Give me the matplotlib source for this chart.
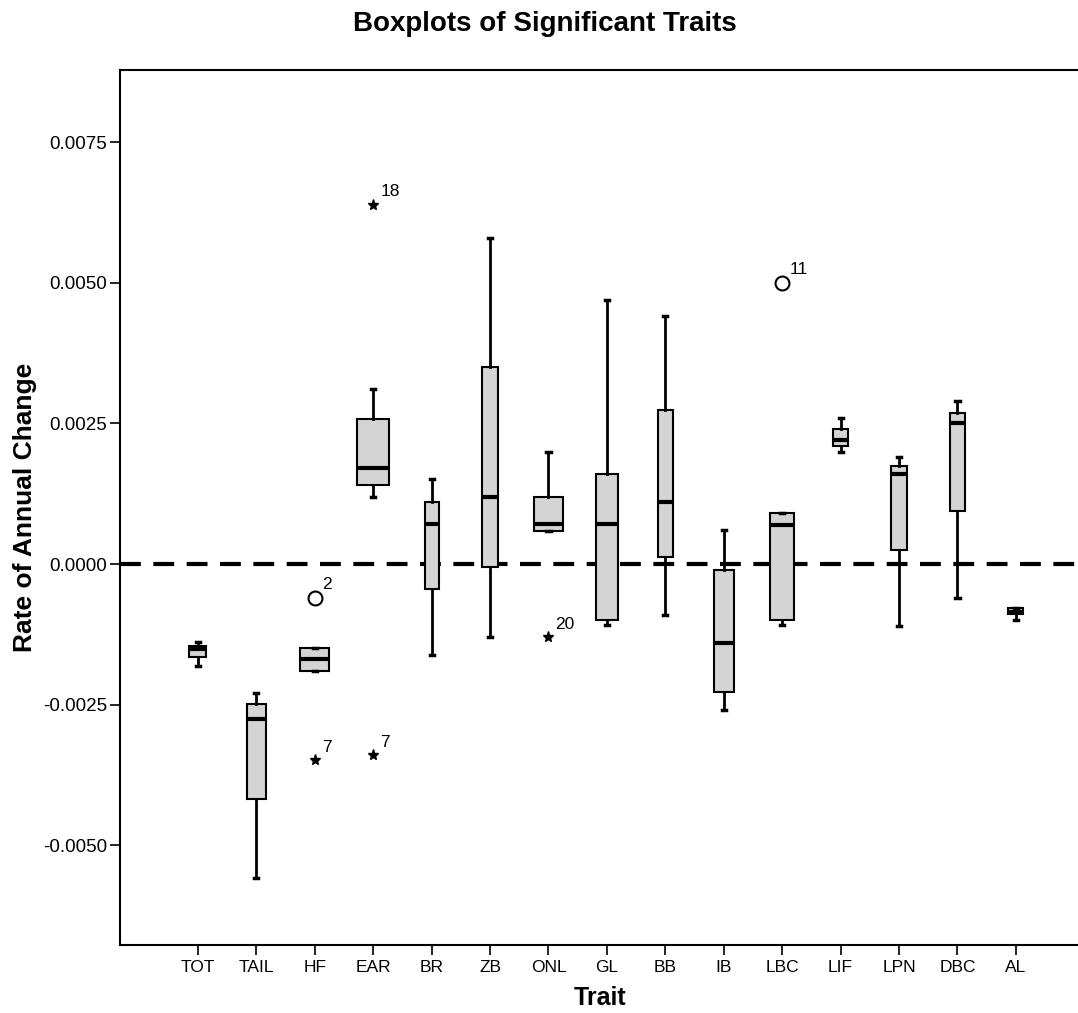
import matplotlib
matplotlib.use("Agg")
import matplotlib.pyplot as plt

plt.rcParams['font.family'] = ['Liberation Sans', 'DejaVu Sans']

# Trait boxplot summaries
traits = ["TOT", "TAIL", "HF", "EAR", "BR", "ZB", "ONL", "GL",
          "BB", "IB", "LBC", "LIF", "LPN", "DBC", "AL"]
whis_lo = [-0.00181, -0.00559, -0.00190, 0.00119, -0.00162, -0.00130, 0.00059, -0.00108,
           -0.00091, -0.00260, -0.00108, 0.00199, -0.00110, -0.00060, -0.00100]
q1 = [-0.00165, -0.00418, -0.00190, 0.00141, -0.00045, -0.00005, 0.00059, -0.00100,
      0.00012, -0.00228, -0.00100, 0.00210, 0.00025, 0.00094, -0.00089]
med = [-0.00152, -0.00276, -0.00169, 0.00171, 0.00071, 0.00119, 0.00071, 0.00071,
       0.00110, -0.00141, 0.00069, 0.00221, 0.00160, 0.00251, -0.00085]
q3 = [-0.00146, -0.00249, -0.00149, 0.00258, 0.00110, 0.00350, 0.00119, 0.00160,
      0.00274, -0.00011, 0.00091, 0.00240, 0.00174, 0.00269, -0.00078]
whis_hi = [-0.00139, -0.00229, -0.00149, 0.00311, 0.00151, 0.00580, 0.00199, 0.00470,
           0.00441, 0.00060, 0.00091, 0.00260, 0.00190, 0.00290, -0.00078]

# outliers: (trait, value, case label, kind)
out_trait = ["HF", "HF", "EAR", "EAR", "ONL", "LBC"]
out_value = [-0.00060, -0.00349, 0.00639, -0.00340, -0.00130, 0.00500]
out_case = ["2", "7", "18", "7", "20", "11"]
out_kind = ["o", "*", "*", "*", "*", "o"]

# box widths vary with group size (SPSS style)
box_widths = [0.29, 0.33, 0.50, 0.55, 0.24, 0.27, 0.48, 0.39,
              0.26, 0.34, 0.41, 0.26, 0.27, 0.26, 0.26]

positions = list(range(1, len(traits) + 1))

fig = plt.figure(figsize=(10.78, 10.13), dpi=100)
ax = fig.add_axes([0.111, 0.067, 0.891, 0.864])

stats = []
for i, name in enumerate(traits):
    stats.append(dict(label=name, med=med[i], q1=q1[i], q3=q3[i],
                      whislo=whis_lo[i], whishi=whis_hi[i], fliers=[]))

ax.axhline(0, color="black", lw=3, dashes=(5, 3), zorder=1)

ax.bxp(stats, positions=positions, widths=box_widths, capwidths=0.07,
       patch_artist=True, showfliers=False,
       boxprops=dict(facecolor="#d4d4d4", edgecolor="black", linewidth=1.5),
       medianprops=dict(color="black", linewidth=3),
       whiskerprops=dict(color="black", linewidth=2),
       capprops=dict(color="black", linewidth=2.5),
       zorder=2)

for t, v, c, k in zip(out_trait, out_value, out_case, out_kind):
    x = positions[traits.index(t)]
    if k == "o":
        ax.plot(x, v, marker="o", ms=10, mfc="white", mec="black", mew=1.5, zorder=3)
    else:
        ax.plot(x, v, marker="*", ms=8, color="black", zorder=3)
    ax.annotate(c, (x, v), xytext=(5, 4), textcoords="offset points",
                fontsize=12.5, ha="left", va="bottom")

ax.set_xlim(-0.34, 16.1)
ax.set_ylim(-0.00678, 0.00879)
ax.set_xticks(positions)
ax.set_xticklabels(traits, fontsize=12.5)
ax.set_yticks([-0.005, -0.0025, 0.0, 0.0025, 0.005, 0.0075])
ax.set_yticklabels(["-0.0050", "-0.0025", "0.0000", "0.0025", "0.0050", "0.0075"], fontsize=13.5)
ax.tick_params(axis="both", direction="out", length=7, width=1.2)
ax.tick_params(axis="y", pad=2)
ax.spines["right"].set_visible(False)
for s in ["left", "top", "bottom"]:
    ax.spines[s].set_linewidth(1.5)

ax.set_xlabel("Trait", fontsize=18, fontweight="bold", labelpad=8)
ax.set_ylabel("Rate of Annual Change", fontsize=19, fontweight="bold", labelpad=4)
fig.text(0.505, 0.976, "Boxplots of Significant Traits", ha="center", va="center",
         fontsize=20, fontweight="bold")

fig.savefig("out.png", dpi=100)
